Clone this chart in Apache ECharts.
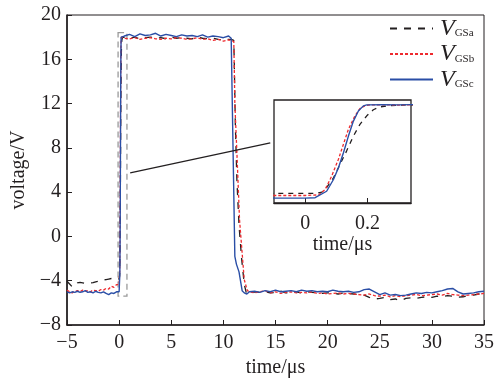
<!DOCTYPE html>
<html><head><meta charset="utf-8">
<script src="https://cdn.jsdelivr.net/npm/echarts@6/dist/echarts.min.js"></script>
<style>html,body{margin:0;padding:0;background:#fff}#c{width:495px;height:380px}</style>
</head><body><div id="c"></div>
<script>
// ---- data (time in µs, voltage in V) ----
const seriesNames = ['VGSa', 'VGSb', 'VGSc'];
const xTicks = [-5, 0, 5, 10, 15, 20, 25, 30, 35];
const yTicks = [-8, -4, 0, 4, 8, 12, 16, 20];
const insetTicks = [0, 0.2];

const voltA = [
  [-5,-4.05],[-4.75,-4.3],[-4.5,-4.55],[-4.25,-4.45],[-4,-4.2],[-3.75,-4.15],[-3.5,-4.2],[-3.25,-4.25],[-3,-4.22],
  [-2.75,-4.2],[-2.5,-4.18],[-2.25,-4.1],[-2,-4.05],[-1.75,-4.0],[-1.5,-3.92],[-1.25,-3.9],[-1,-3.85],[-0.75,-3.8],
  [-0.5,-3.75],[-0.25,-3.8],[-0.1,-3.85],[0,-3.85],
  [0.032,-3.85],[0.054,-3.5],[0.069,-2.4],[0.091,0.0],[0.112,3.3],[0.133,6.6],[0.155,10.3],[0.176,13.2],[0.198,15.3],
  [0.219,16.8],[0.240,17.5],[0.267,17.75],[0.299,17.9],[0.331,18.0],
  [0.5,17.95],[1,17.9],[1.5,18.0],[2,17.85],[2.5,17.95],[3,18.0],[3.5,17.9],[4,17.95],[4.5,17.85],[5,18.0],[5.5,17.9],
  [6,17.95],[6.5,17.9],[7,17.85],[7.5,18.0],[8,17.9],[8.5,17.85],[9,17.9],[9.5,17.8],[10,17.75],[10.5,17.8],[10.75,17.8],
  [11.0,17.7],[11.05,15.5],[11.15,10],[11.3,5],[11.5,1],[11.75,-2],[12.0,-4.3],[12.2,-5.1],
  [12.5,-5.1],[13,-5.0],[13.5,-5.05],[14,-5.0],[14.5,-5.1],[15,-5.05],[15.5,-4.95],[16,-5.1],[16.5,-5.05],[17,-5.0],
  [17.5,-5.1],[18,-5.0],[18.5,-5.05],[19,-5.1],[19.5,-5.15],[20,-5.1],[20.5,-5.1],[21,-5.2],[21.5,-5.1],[22,-5.15],
  [22.5,-5.2],[23,-5.25],[23.5,-5.3],[24,-5.5],[24.5,-5.65],[25,-5.6],[25.5,-5.5],[26,-5.7],[26.5,-5.65],[27,-5.8],
  [27.5,-5.6],[28,-5.55],[28.5,-5.6],[29,-5.5],[29.5,-5.45],[30,-5.5],[30.5,-5.4],[31,-5.45],[31.5,-5.35],[32,-5.4],
  [32.5,-5.5],[33,-5.45],[33.5,-5.35],[34,-5.3],[34.5,-5.2],[35,-5.1]
];
const voltB = [
  [-5,-4.85],[-4.75,-5.0],[-4.5,-5.1],[-4.25,-4.95],[-4,-4.9],[-3.75,-5.0],[-3.5,-4.85],[-3.25,-4.95],[-3,-4.9],
  [-2.75,-5.0],[-2.5,-4.85],[-2.25,-4.9],[-2,-4.95],[-1.75,-4.8],[-1.5,-4.85],[-1.25,-4.7],[-1,-4.75],[-0.75,-4.5],
  [-0.5,-4.6],[-0.25,-4.35],[-0.1,-4.35],[0,-4.35],
  [0.043,-4.2],[0.064,-2.9],[0.085,0.4],[0.107,4.6],[0.123,8.3],[0.139,12.0],[0.160,15.3],[0.176,17.1],[0.192,17.75],
  [0.208,18.0],[0.25,18.0],[0.3,17.95],[0.34,18.0],
  [0.5,17.9],[1,17.85],[1.5,17.95],[2,17.8],[2.5,17.9],[3,17.95],[3.5,17.85],[4,17.8],[4.5,17.9],[5,17.85],[5.5,17.95],
  [6,17.9],[6.5,17.8],[7,17.85],[7.5,17.95],[8,17.8],[8.5,17.85],[9,17.7],[9.5,17.8],[10,17.65],[10.5,17.75],[10.75,17.7],
  [11.0,17.6],[11.05,15],[11.1,12],[11.3,7.5],[11.55,1.5],[11.8,-1.5],[12.0,-3.9],[12.3,-4.9],
  [12.5,-5.0],[13,-5.1],[13.5,-5.0],[14,-4.9],[14.5,-5.1],[15,-5.0],[15.5,-5.15],[16,-5.05],[16.5,-5.0],[17,-5.1],
  [17.5,-5.05],[18,-5.1],[18.5,-5.0],[19,-5.15],[19.5,-5.1],[20,-5.2],[20.5,-5.15],[21,-5.1],[21.5,-5.2],[22,-5.15],
  [22.5,-5.2],[23,-5.25],[23.5,-5.3],[24,-5.2],[24.5,-5.35],[25,-5.4],[25.5,-5.3],[26,-5.45],[26.5,-5.35],[27,-5.45],
  [27.5,-5.35],[28,-5.3],[28.5,-5.25],[29,-5.35],[29.5,-5.3],[30,-5.25],[30.5,-5.2],[31,-5.3],[31.5,-5.15],[32,-5.25],
  [32.5,-5.3],[33,-5.35],[33.5,-5.3],[34,-5.25],[34.5,-5.2],[35,-5.15]
];
const voltC = [
  [-5,-5.0],[-4.75,-5.1],[-4.5,-5.0],[-4.25,-5.05],[-4,-4.95],[-3.75,-5.05],[-3.5,-5.0],[-3.25,-4.9],[-3,-5.05],
  [-2.75,-5.0],[-2.5,-5.1],[-2.25,-4.95],[-2,-5.05],[-1.75,-5.1],[-1.5,-5.0],[-1.25,-5.15],[-1,-5.25],[-0.75,-5.1],
  [-0.5,-5.15],[-0.25,-5.0],[-0.1,-5.0],[0,-5.0],
  [0.032,-4.9],[0.069,-3.3],[0.091,-0.4],[0.107,2.5],[0.123,6.2],[0.139,10.3],[0.155,14.0],[0.171,16.5],[0.187,17.75],
  [0.198,18.0],[0.25,18.05],[0.3,18.0],[0.34,18.05],
  [0.5,18.1],[1,18.25],[1.5,18.05],[2,18.3],[2.5,18.15],[3,18.2],[3.5,18.35],[4,18.1],[4.5,18.25],[5,18.15],[5.5,18.05],
  [6,18.2],[6.5,18.1],[7,18.15],[7.5,18.05],[8,18.2],[8.5,18.0],[9,18.1],[9.5,18.05],[10,17.95],[10.5,18.1],[10.75,17.9],
  [10.85,17.8],[11.1,-1.8],[11.25,-2.5],[11.5,-3.2],[11.8,-4.9],[12.0,-5.1],[12.25,-5.2],
  [12.5,-5.0],[13,-4.95],[13.5,-5.05],[14,-4.9],[14.5,-5.0],[15,-4.85],[15.5,-5.0],[16,-4.95],[16.5,-4.9],[17,-5.0],
  [17.5,-4.85],[18,-4.95],[18.5,-4.9],[19,-5.0],[19.5,-4.95],[20,-5.0],[20.5,-4.85],[21,-4.95],[21.5,-5.0],[22,-4.95],
  [22.5,-5.05],[23,-5.0],[23.5,-4.8],[24,-4.75],[24.5,-5.0],[25,-5.25],[25.5,-5.1],[26,-5.3],[26.5,-5.25],[27,-5.35],
  [27.5,-5.3],[28,-5.2],[28.5,-5.1],[29,-5.15],[29.5,-5.05],[30,-5.1],[30.5,-5.0],[31,-4.9],[31.5,-4.75],[32,-4.7],
  [32.5,-5.0],[33,-5.2],[33.5,-5.15],[34,-5.1],[34.5,-5.0],[35,-4.95]
];
// zoom window marked on main chart, and arrow to inset (data coords)
const zoomBox = [[-0.1, 18.4], [0.75, -5.4]];
const arrowLine = [[1.06, 5.73], [14.5, 8.45]];

const FONT = '"Liberation Serif", "DejaVu Serif", serif';
const INK = '#231f20';
const colors = ['#231f20', '#ee2a2e', '#2a4ea6'];
const lineTypes = [[7, 7], [3, 2], 'solid'];
const minus = v => String(v).replace('-', '\u2212');
const voltData = [voltA, voltB, voltC];

const series = [];
voltData.forEach((d, i) => {
  series.push({
    name: seriesNames[i], type: 'line', data: d, xAxisIndex: 0, yAxisIndex: 0,
    symbol: 'none', showSymbol: false, silent: true, animation: false,
    lineStyle: {color: colors[i], width: i === 2 ? 1.4 : 1.3, type: lineTypes[i]},
    itemStyle: {color: colors[i]}
  });
});
voltData.forEach((d, i) => {
  series.push({
    name: seriesNames[i], type: 'line', data: d, xAxisIndex: 1, yAxisIndex: 1,
    symbol: 'none', showSymbol: false, silent: true, animation: false, clip: true,
    lineStyle: {color: colors[i], width: i === 2 ? 1.4 : 1.3, type: i === 0 ? [5, 5] : lineTypes[i]}
  });
});
series[0].markArea = {
  silent: true,
  itemStyle: {color: 'rgba(0,0,0,0)', borderColor: '#9a9a9a', borderWidth: 1.3, borderType: [6, 4]},
  data: [[{coord: zoomBox[0]}, {coord: zoomBox[1]}]]
};
series[0].markLine = {
  silent: true, animation: false,
  symbol: ['none', 'arrow'], symbolSize: [0, 9],
  label: {show: false},
  lineStyle: {color: INK, width: 1.3, type: 'solid'},
  data: [[{coord: arrowLine[0]}, {coord: arrowLine[1]}]]
};

const chart = echarts.init(document.getElementById('c'), null, {renderer: 'canvas'});
chart.setOption({
  animation: false,
  backgroundColor: '#fff',
  grid: [
    {left: 67, right: 11, top: 15, bottom: 55, show: true, borderColor: INK, borderWidth: 1,
     backgroundColor: 'transparent', outerBoundsMode: 'none', containLabel: false},
    {left: 274, width: 137, top: 100, height: 103, show: true, borderColor: INK, borderWidth: 1.3,
     backgroundColor: '#fff', outerBoundsMode: 'none', containLabel: false}
  ],
  legend: {
    left: 384, top: 9, orient: 'vertical', itemWidth: 43, itemHeight: 12, itemGap: -1,
    data: seriesNames, selectedMode: false,
    itemStyle: {opacity: 0, borderWidth: 0},
    formatter: n => '{v|V}{s|' + n.slice(1) + '}',
    textStyle: {
      color: INK,
      rich: {
        v: {fontFamily: FONT, fontStyle: 'italic', fontSize: 24, lineHeight: 21, padding: [0, 0, 0, 2], color: INK},
        s: {fontFamily: FONT, fontSize: 11, lineHeight: 21, verticalAlign: 'bottom', padding: [14, 0, 0, 0], color: INK}
      }
    }
  },
  xAxis: [
    {
      type: 'value', gridIndex: 0, min: -5, max: 35, interval: 5,
      name: 'time/\u03bcs', nameLocation: 'middle', nameGap: 30,
      nameTextStyle: {fontFamily: FONT, fontSize: 20, color: INK},
      axisLine: {show: true, onZero: false, lineStyle: {color: INK, width: 1.6}},
      axisTick: {show: true, inside: true, length: 5, lineStyle: {color: INK, width: 1}},
      axisLabel: {fontFamily: FONT, fontSize: 20, color: INK, margin: 8, formatter: minus, customValues: xTicks},
      splitLine: {show: false}
    },
    {
      type: 'value', gridIndex: 1, min: -0.1, max: 0.34,
      name: 'time/\u03bcs', nameLocation: 'middle', nameGap: 32,
      nameTextStyle: {fontFamily: FONT, fontSize: 20, color: INK},
      axisLine: {show: true, onZero: false, lineStyle: {color: INK, width: 1.3}},
      axisTick: {show: true, inside: true, length: 5, customValues: insetTicks, lineStyle: {color: INK, width: 1}},
      axisLabel: {fontFamily: FONT, fontSize: 20, color: INK, margin: 11, customValues: insetTicks},
      splitLine: {show: false}
    }
  ],
  yAxis: [
    {
      type: 'value', gridIndex: 0, min: -8, max: 20, interval: 4,
      name: 'voltage/V', nameLocation: 'middle', nameGap: 38,
      nameTextStyle: {fontFamily: FONT, fontSize: 20, color: INK},
      axisLine: {show: true, onZero: false, lineStyle: {color: INK, width: 1.6}},
      axisTick: {show: true, inside: true, length: 5, lineStyle: {color: INK, width: 1}},
      axisLabel: {fontFamily: FONT, fontSize: 20, color: INK, margin: 6, formatter: minus, customValues: yTicks},
      splitLine: {show: false}
    },
    {
      type: 'value', gridIndex: 1, min: -6.2, max: 19.2,
      axisLine: {show: false}, axisTick: {show: false}, axisLabel: {show: false}, splitLine: {show: false}
    }
  ],
  series: series
});
</script>
</body></html>
